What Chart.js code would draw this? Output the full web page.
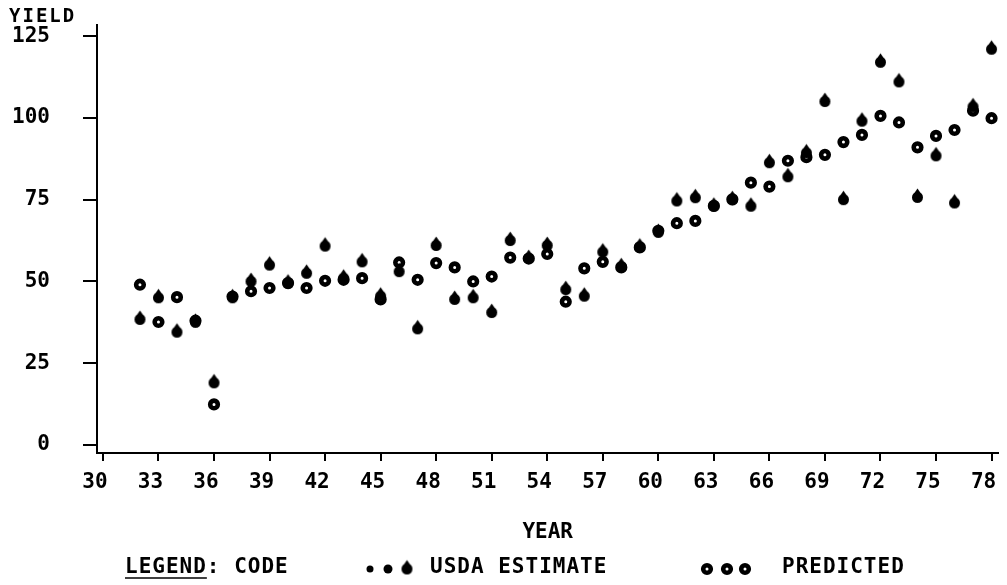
<!DOCTYPE html>
<html>
<head>
<meta charset="utf-8">
<script src="https://cdn.jsdelivr.net/npm/chart.js@4.4.1/dist/chart.umd.min.js"></script>
<style>
  html, body { margin: 0; padding: 0; background: #fff; }
  canvas { display: block; }
</style>
</head>
<body>
<canvas id="chart-area" width="1007" height="585"></canvas>
<script>
// values (yield per year, 1932-1978)
var years = [32, 33, 34, 35, 36, 37, 38, 39, 40, 41, 42, 43, 44, 45, 46, 47, 48, 49, 50, 51, 52, 53, 54, 55,
             56, 57, 58, 59, 60, 61, 62, 63, 64, 65, 66, 67, 68, 69, 70, 71, 72, 73, 74, 75, 76, 77, 78];
var usdaEstimate = [38.4, 45, 34.5, 37.5, 19, 45, 50, 55, 49.5, 52.5, 60.8, 51, 56, 45.5, 53, 35.5, 61, 44.5, 45, 40.5, 62.5, 57, 61, 47.5,
                    45.5, 59, 54.5, 60.5, 65, 74.6, 75.6, 73, 75, 73, 86.3, 82, 89.3, 105, 75, 99, 117, 111, 75.7, 88.4, 74, 103.4, 121];
var predicted = [49, 37.6, 45.2, 38, 12.4, 45.4, 47, 48, 49.5, 48, 50.2, 50.5, 51, 44.5, 55.8, 50.5, 55.6, 54.3, 50, 51.5, 57.3, 57, 58.4, 43.8,
                 54, 56, 54.3, 60.4, 65.5, 67.8, 68.5, 73.1, 75.1, 80.2, 79, 86.9, 88, 88.7, 92.6, 94.8, 100.6, 98.6, 91, 94.5, 96.3, 102.2, 99.9];
var xTickValues = [30, 33, 36, 39, 42, 45, 48, 51, 54, 57, 60, 63, 66, 69, 72, 75, 78];
var yTickValues = [0, 25, 50, 75, 100, 125];

var FONT = "'DejaVu Sans Mono', monospace";

// little spade/teardrop used by the plotter for the USDA points
function makeDrop(r) {
    var c = document.createElement('canvas');
    c.width = Math.ceil(2 * r + 4);
    c.height = Math.ceil(2 * r + 10);
    var g = c.getContext('2d');
    var cx = c.width / 2, cy = c.height / 2;
    g.fillStyle = '#000';
    g.beginPath();
    g.arc(cx, cy, r, 0, Math.PI * 2);
    g.fill();
    g.beginPath();
    g.moveTo(cx - r * 0.8, cy - r * 0.45);
    g.lineTo(cx, cy - r - 3.5);
    g.lineTo(cx + r * 0.8, cy - r * 0.45);
    g.closePath();
    g.fill();
    return c;
}
var drop = makeDrop(5.5);

function ring(ctx, x, y) {
    ctx.beginPath();
    ctx.arc(x, y, 3.8, 0, Math.PI * 2);
    ctx.fillStyle = '#fff';
    ctx.fill();
    ctx.lineWidth = 4.6;
    ctx.strokeStyle = '#000';
    ctx.stroke();
}

var codeLegend = {
    id: 'codeLegend',
    afterDraw: function(chart) {
        var ctx = chart.ctx;
        var y = chart.chartArea.bottom + 115;
        ctx.save();
        ctx.fillStyle = '#000';
        ctx.strokeStyle = '#000';
        ctx.textBaseline = 'middle';
        ctx.textAlign = 'left';
        ctx.font = 'bold 19px ' + FONT;
        ctx.letterSpacing = '2px';
        ctx.fillText('YIELD', 9, 17);

        ctx.font = 'bold 21px ' + FONT;
        ctx.letterSpacing = '1px';
        ctx.fillText('LEGEND: CODE', 125, y);
        var w = ctx.measureText('LEGEND').width;
        ctx.lineWidth = 1.5;
        ctx.beginPath();
        ctx.moveTo(125, y + 10);
        ctx.lineTo(125 + w, y + 10);
        ctx.stroke();

        // usda markers
        ctx.beginPath(); ctx.arc(370, y + 1, 3.5, 0, Math.PI * 2); ctx.fill();
        ctx.beginPath(); ctx.arc(388, y + 1, 4.5, 0, Math.PI * 2); ctx.fill();
        ctx.drawImage(drop, 407 - drop.width / 2, y + 1 - drop.height / 2);
        ctx.fillStyle = '#000';
        ctx.fillText('USDA ESTIMATE', 430, y);

        ring(ctx, 707, y + 1);
        ring(ctx, 727, y + 1);
        ring(ctx, 745, y + 1);
        ctx.fillStyle = '#000';
        ctx.fillText('PREDICTED', 782, y);
        ctx.restore();
    }
};

var config = {
    type: 'scatter',
    data: {
        datasets: [{
            label: 'USDA ESTIMATE',
            data: years.map(function(yr, i) { return {x: yr, y: usdaEstimate[i]}; }),
            pointStyle: drop,
            order: 0
        }, {
            label: 'PREDICTED',
            data: years.map(function(yr, i) { return {x: yr, y: predicted[i]}; }),
            pointStyle: 'circle',
            radius: 3.8,
            borderWidth: 4.6,
            borderColor: '#000',
            backgroundColor: '#fff',
            order: 1
        }]
    },
    options: {
        responsive: false,
        animation: false,
        events: [],
        layout: { padding: { top: 25, right: 0, bottom: 40, left: 0 } },
        plugins: {
            legend: { display: false },
            tooltip: { enabled: false }
        },
        scales: {
            x: {
                type: 'linear',
                min: 29.68,
                max: 78.37,
                afterBuildTicks: function(s) {
                    s.ticks = xTickValues.map(function(v) { return {value: v}; });
                },
                afterFit: function(s) {
                    s.height = 92;
                    s.paddingLeft = 0;
                    s.paddingRight = 0;
                },
                border: { color: '#000', width: 2 },
                grid: { drawOnChartArea: false, drawTicks: true, tickLength: 8, color: '#000', lineWidth: 2 },
                ticks: {
                    color: '#000',
                    font: { family: FONT, size: 21, weight: 'bold' },
                    padding: 9,
                    labelOffset: -8,
                    maxRotation: 0,
                    autoSkip: false
                },
                title: {
                    display: true,
                    text: 'YEAR',
                    color: '#000',
                    font: { family: FONT, size: 21, weight: 'bold' },
                    padding: 0
                }
            },
            y: {
                type: 'linear',
                min: -2.45,
                max: 128.4,
                afterBuildTicks: function(s) {
                    s.ticks = yTickValues.map(function(v) { return {value: v}; });
                },
                afterFit: function(s) {
                    s.width = 97;
                    s.paddingTop = 0;
                    s.paddingBottom = 0;
                },
                border: { color: '#000', width: 2 },
                grid: { drawOnChartArea: false, drawTicks: true, tickLength: 14, color: '#000', lineWidth: 2 },
                ticks: {
                    color: '#000',
                    font: { family: FONT, size: 21, weight: 'bold' },
                    padding: 33,
                    autoSkip: false
                }
            }
        }
    },
    plugins: [codeLegend]
};

var ctx = document.getElementById('chart-area').getContext('2d');
window.yieldChart = new Chart(ctx, config);
</script>
</body>
</html>
